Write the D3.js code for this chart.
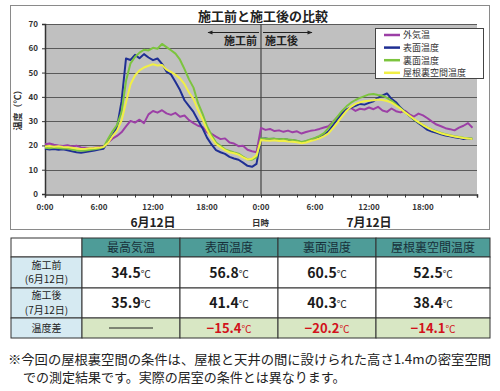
<!DOCTYPE html>
<html>
<head>
<meta charset="utf-8">
<script src="https://cdn.jsdelivr.net/npm/d3@7"></script>
<style>
  body { margin: 0; background: #fff; }
  svg text { font-family: "Noto Sans CJK JP", "Noto Sans", sans-serif; }
</style>
</head>
<body>
<div id="chart"></div>
<script>
// 30-minute readings, 6/12 0:00 .. 7/12 23:30 (two days back to back)
const hours = d3.range(0, 48, 0.5);

const outdoor = [
  20.5, 20.8, 20.3, 20.0, 19.8, 20.1, 19.6, 19.9, 19.2, 19.0, 18.8, 19.1,
  19.4, 19.6, 21.2, 22.8, 23.9, 25.4, 27.8, 30.1, 29.4, 30.6, 29.2, 32.8,
  34.2, 33.5, 34.5, 33.2, 32.6, 33.4, 31.8, 32.3, 30.4, 29.2, 28.1, 27.6,
  25.4, 24.8, 23.6, 22.6, 22.9, 21.2, 20.8, 19.7, 19.9, 18.2, 17.6, 17.2,
  27.2, 26.4, 26.8, 25.9, 26.2, 25.6, 26.1, 25.4, 25.8, 24.9, 25.5, 26.0,
  26.3, 26.8, 27.4, 27.9, 29.8, 31.6, 33.8, 34.6, 35.4, 34.2, 35.1, 34.8,
  35.6, 34.9, 35.9, 34.4, 33.8, 35.2, 34.1, 33.6, 34.3, 32.8, 31.9, 33.1,
  32.4, 31.2, 29.8, 28.6, 27.9, 27.1, 26.7, 26.2, 27.3, 28.1, 29.2, 27.3
];
const surface = [
  18.6, 18.3, 18.5, 18.2, 18.4, 18.0, 17.6, 17.2, 17.0, 17.3, 17.6, 17.9,
  18.3, 18.6, 21.5, 24.2, 27.4, 38.0, 55.8, 55.2, 57.3, 55.9, 57.6, 56.2,
  55.1, 55.8, 53.6, 50.4, 49.2, 46.1, 42.8, 38.6, 36.2, 33.8, 30.4, 27.1,
  23.2, 20.4, 18.1, 17.2, 16.5, 15.3, 14.6, 14.1, 12.9, 11.6, 11.2, 12.4,
  22.8, 22.9, 22.6, 22.7, 22.4, 22.6, 22.3, 22.1, 21.8, 21.2, 21.6, 22.3,
  22.9, 23.6, 24.4, 25.8, 28.3, 30.9, 33.1, 34.8, 35.6, 36.3, 37.1, 36.8,
  37.5, 38.2, 39.6, 40.6, 41.4, 39.2, 37.8, 35.6, 33.9, 32.1, 30.6, 29.2,
  27.8, 26.4, 25.7, 25.2, 24.6, 24.1, 23.8, 23.4, 23.1, 22.6, 22.9, 22.7
];
const backside = [
  19.0, 18.8, 19.1, 18.9, 18.7, 18.8, 18.3, 18.0, 17.8, 17.9, 18.2, 18.4,
  18.7, 19.3, 22.6, 25.8, 28.4, 33.6, 46.5, 53.8, 56.4, 58.2, 59.4, 59.1,
  60.2, 59.8, 61.8, 60.5, 59.2, 57.8, 55.3, 51.4, 47.2, 43.8, 37.5, 33.1,
  27.9, 24.3, 21.2, 19.8, 18.4, 17.7, 17.1, 16.6, 15.4, 14.3, 14.1, 15.2,
  22.9, 22.8, 22.7, 22.8, 22.5, 22.6, 22.4, 22.2, 21.9, 21.4, 21.8, 22.5,
  23.1, 23.9, 25.1, 27.2, 29.6, 31.9, 34.2, 36.1, 37.6, 38.7, 39.6, 40.3,
  41.0, 41.2, 40.8, 40.5, 39.6, 38.4, 36.9, 35.3, 33.6, 32.2, 30.7, 29.5,
  28.4, 27.3, 26.5, 25.8, 25.1, 24.6, 24.2, 23.8, 23.5, 23.2, 23.0, 22.9
];
const attic = [
  19.6, 19.8, 19.5, 19.7, 19.4, 19.3, 19.0, 18.7, 18.5, 18.6, 18.8, 18.9,
  19.1, 19.4, 21.0, 23.8, 26.1, 30.2, 37.8, 45.2, 48.8, 50.9, 52.1, 52.8,
  53.4, 52.9, 53.1, 51.2, 50.3, 49.1, 47.6, 45.2, 41.8, 39.2, 34.6, 30.8,
  26.4, 23.2, 20.6, 19.3, 18.1, 17.2, 16.8, 16.2, 15.1, 14.2, 14.5, 15.9,
  22.2, 22.0, 21.9, 22.1, 21.8, 21.9, 21.6, 21.5, 21.3, 20.9, 21.2, 21.8,
  22.3, 22.9, 23.8, 25.0, 27.1, 29.4, 31.9, 34.2, 35.9, 37.1, 37.8, 38.2,
  38.4, 38.6, 38.9, 38.7, 38.3, 37.6, 36.4, 35.1, 33.6, 32.2, 30.9, 29.6,
  28.4, 27.3, 26.4, 25.7, 25.0, 24.5, 24.1, 23.7, 23.4, 23.1, 22.9, 22.6
];

const seriesNames = ['外気温', '表面温度', '裏面温度', '屋根裏空間温度'];
const seriesColors = ['#9c3fa6', '#1f2f93', '#7cc43e', '#f1ef45'];
const seriesValues = [outdoor, surface, backside, attic];

const yTicks = [0, 10, 20, 30, 40, 50, 60, 70];
const xLabelHours = [0, 6, 12, 18, 24, 30, 36, 42];
const xLabelText = ['0:00', '6:00', '12:00', '18:00', '0:00', '6:00', '12:00', '18:00'];
const dayLabels = ['6月12日', '7月12日'];

// table
const tableHeader = ['', '最高気温', '表面温度', '裏面温度', '屋根裏空間温度'];
const rowLabels = [['施工前', '(6月12日)'], ['施工後', '(7月12日)'], ['温度差']];
const beforeValues = [34.5, 56.8, 60.5, 52.5];
const afterValues = [35.9, 41.4, 40.3, 38.4];
const diffValues = [null, -15.4, -20.2, -14.1];

const footnote = [
  '※今回の屋根裏空間の条件は、屋根と天井の間に設けられた高さ1.4mの密室空間',
  'での測定結果です。実際の居室の条件とは異なります。'
];

const width = 500, height = 391;

const svg = d3.select('#chart').append('svg')
  .attr('width', width)
  .attr('height', height);

// chart frame
svg.append('rect')
  .attr('x', 10.5).attr('y', 5.5)
  .attr('width', 479).attr('height', 224)
  .attr('fill', '#fff')
  .attr('stroke', '#8a8a8a');

let x = d3.scaleLinear().domain([0, 48]).range([45, 477]);
let y = d3.scaleLinear().domain([0, 70]).range([194, 24]);

svg.append('rect')
  .attr('x', x(0)).attr('y', y(70))
  .attr('width', x(48) - x(0)).attr('height', y(0) - y(70))
  .attr('fill', '#c0c0c0');

// grid
svg.append('g')
  .selectAll('line')
  .data(yTicks.filter(d => d > 0))
  .enter()
  .append('line')
  .attr('x1', x(0)).attr('x2', x(48))
  .attr('y1', d => Math.round(y(d)) + 0.5)
  .attr('y2', d => Math.round(y(d)) + 0.5)
  .attr('stroke', '#5a5a5a')
  .attr('stroke-width', 1);

// axes
const xAxis = svg.append('g')
  .attr('transform', `translate(0,${Math.round(y(0)) + 0.5})`)
  .call(d3.axisBottom(x).tickValues(d3.range(0, 49, 2)).tickSize(3).tickFormat(''));
xAxis.select('.domain').attr('stroke', '#333').attr('stroke-width', 1.5);
xAxis.selectAll('.tick line').attr('stroke', '#333');

const yAxis = svg.append('g')
  .attr('transform', `translate(${x(0)},0)`)
  .call(d3.axisLeft(y).tickValues(yTicks).tickSize(3).tickFormat(d3.format('d')));
yAxis.select('.domain').attr('stroke', '#333').attr('stroke-width', 1.5);
yAxis.selectAll('.tick line').attr('stroke', '#333');
yAxis.selectAll('.tick text')
  .attr('x', -7)
  .attr('fill', '#333')
  .style('font-size', '8px')
  .style('font-weight', 'bold');

svg.append('g')
  .selectAll('text')
  .data(xLabelHours)
  .enter()
  .append('text')
  .attr('x', d => x(d))
  .attr('y', 210)
  .attr('text-anchor', 'middle')
  .attr('fill', '#333')
  .style('font-size', '8px')
  .style('font-weight', 'bold')
  .text((d, i) => xLabelText[i]);

// day separator
svg.append('line')
  .attr('x1', x(24)).attr('x2', x(24))
  .attr('y1', y(70)).attr('y2', y(0))
  .attr('stroke', '#444')
  .attr('stroke-width', 1.2);

// lines
const line = d3.line()
  .x((d, i) => x(hours[i]))
  .y(d => y(d));

svg.append('g')
  .selectAll('path')
  .data(seriesValues)
  .enter()
  .append('path')
  .attr('d', d => line(d))
  .attr('fill', 'none')
  .attr('stroke', (d, i) => seriesColors[i])
  .attr('stroke-width', 2)
  .attr('stroke-linejoin', 'round');

// before / after arrows
const defs = svg.append('defs');
defs.append('marker')
  .attr('id', 'arrowhead')
  .attr('viewBox', '0 0 10 10')
  .attr('refX', 9).attr('refY', 5)
  .attr('markerWidth', 6).attr('markerHeight', 5)
  .attr('orient', 'auto')
  .append('path')
  .attr('d', 'M0,1 L10,5 L0,9 Z')
  .attr('fill', '#222');

svg.append('line')
  .attr('x1', x(24) - 2).attr('x2', 208)
  .attr('y1', 32.5).attr('y2', 32.5)
  .attr('stroke', '#222').attr('stroke-width', 1)
  .attr('marker-end', 'url(#arrowhead)');
svg.append('line')
  .attr('x1', x(24) + 2).attr('x2', 312)
  .attr('y1', 32.5).attr('y2', 32.5)
  .attr('stroke', '#222').attr('stroke-width', 1)
  .attr('marker-end', 'url(#arrowhead)');

svg.append('text')
  .attr('x', x(24) - 4).attr('y', 45)
  .attr('text-anchor', 'end')
  .attr('fill', '#222')
  .style('font-size', '11px')
  .style('font-weight', 'bold')
  .text('施工前');
svg.append('text')
  .attr('x', x(24) + 4).attr('y', 45)
  .attr('fill', '#222')
  .style('font-size', '11px')
  .style('font-weight', 'bold')
  .text('施工後');

// title
svg.append('text')
  .attr('x', 263).attr('y', 21)
  .attr('text-anchor', 'middle')
  .attr('fill', '#222')
  .style('font-size', '13px')
  .style('font-weight', 'bold')
  .text('施工前と施工後の比較');

// y label
svg.append('text')
  .attr('transform', 'translate(21,108) rotate(-90)')
  .attr('text-anchor', 'middle')
  .attr('fill', '#333')
  .style('font-size', '9px')
  .style('font-weight', 'bold')
  .text('温度（℃）');

// day labels
svg.append('g')
  .selectAll('text')
  .data(dayLabels)
  .enter()
  .append('text')
  .attr('x', (d, i) => x(i * 24 + 12))
  .attr('y', 227)
  .attr('text-anchor', 'middle')
  .attr('fill', '#222')
  .style('font-size', '12px')
  .style('font-weight', 'bold')
  .text(d => d);

svg.append('text')
  .attr('x', 252).attr('y', 226)
  .attr('fill', '#333')
  .style('font-size', '8.5px')
  .style('font-weight', 'bold')
  .text('日時');

// legend
const legend = svg.append('g');
legend.append('rect')
  .attr('x', 375.5).attr('y', 28.5)
  .attr('width', 108).attr('height', 50)
  .attr('fill', '#fff')
  .attr('stroke', '#444');

const lg = legend.selectAll('g')
  .data(seriesNames)
  .enter()
  .append('g')
  .attr('transform', (d, i) => `translate(384,${35 + i * 12.6})`);
lg.append('line')
  .attr('x1', 0).attr('x2', 16)
  .attr('stroke', (d, i) => seriesColors[i])
  .attr('stroke-width', 2.5);
lg.append('text')
  .attr('x', 19).attr('y', 3.3)
  .attr('fill', '#333')
  .style('font-size', '9px')
  .text(d => d);

// table
const colEdges = [11, 82, 180, 278, 376, 490];
const rowEdges = [238, 257, 288, 318, 338];
const table = svg.append('g');

const cells = [];
for (let r = 0; r < 4; r++) {
  for (let c = 0; c < 5; c++) {
    let fill = '#fff';
    if (r === 0) fill = c === 0 ? '#fff' : '#4e9c98';
    else if (c === 0) fill = '#d6eaf2';
    else if (r === 3) fill = '#d8e7c4';
    cells.push({ r, c, fill });
  }
}

table.selectAll('rect')
  .data(cells)
  .enter()
  .append('rect')
  .attr('x', d => colEdges[d.c])
  .attr('y', d => rowEdges[d.r])
  .attr('width', d => colEdges[d.c + 1] - colEdges[d.c])
  .attr('height', d => rowEdges[d.r + 1] - rowEdges[d.r])
  .attr('fill', d => d.fill)
  .attr('stroke', '#333')
  .attr('stroke-width', 1);

const colMid = c => (colEdges[c] + colEdges[c + 1]) / 2;
const rowMid = r => (rowEdges[r] + rowEdges[r + 1]) / 2;

table.selectAll('.head')
  .data(tableHeader.slice(1))
  .enter()
  .append('text')
  .attr('class', 'head')
  .attr('x', (d, i) => colMid(i + 1))
  .attr('y', rowMid(0) + 4.5)
  .attr('text-anchor', 'middle')
  .attr('fill', '#17303a')
  .style('font-size', '12px')
  .text(d => d);

// row labels, one text per line
rowLabels.forEach((lines, i) => {
  lines.forEach((s, k) => {
    table.append('text')
      .attr('x', colMid(0))
      .attr('y', rowMid(i + 1) + 3.5 + (k - (lines.length - 1) / 2) * 14.5)
      .attr('text-anchor', 'middle')
      .attr('fill', '#222')
      .style('font-size', '10px')
      .text(s);
  });
});

const valueText = (g, v, r, c, color) => {
  const t = g.append('text')
    .attr('x', colMid(c))
    .attr('y', rowMid(r) + 5)
    .attr('text-anchor', 'middle')
    .attr('fill', color)
    .style('font-size', r === 3 ? '13px' : '14px')
    .style('font-weight', 'bold');
  t.append('tspan').text(v < 0 ? '−' + Math.abs(v).toFixed(1) : v.toFixed(1));
  t.append('tspan').style('font-size', '10px').style('font-weight', 'normal').text('℃');
};

beforeValues.forEach((v, i) => valueText(table, v, 1, i + 1, '#1a1a1a'));
afterValues.forEach((v, i) => valueText(table, v, 2, i + 1, '#1a1a1a'));
diffValues.forEach((v, i) => {
  if (v === null) {
    table.append('line')
      .attr('x1', colMid(i + 1) - 22).attr('x2', colMid(i + 1) + 22)
      .attr('y1', rowMid(3)).attr('y2', rowMid(3))
      .attr('stroke', '#222').attr('stroke-width', 1);
  } else {
    valueText(table, v, 3, i + 1, '#d2121b');
  }
});

// footnote
svg.append('text')
  .attr('x', 8).attr('y', 364)
  .attr('fill', '#222')
  .attr('textLength', 483)
  .attr('lengthAdjust', 'spacingAndGlyphs')
  .style('font-size', '13px')
  .text(footnote[0]);
svg.append('text')
  .attr('x', 23).attr('y', 382)
  .attr('fill', '#222')
  .style('font-size', '13px')
  .text(footnote[1]);
</script>
</body>
</html>
